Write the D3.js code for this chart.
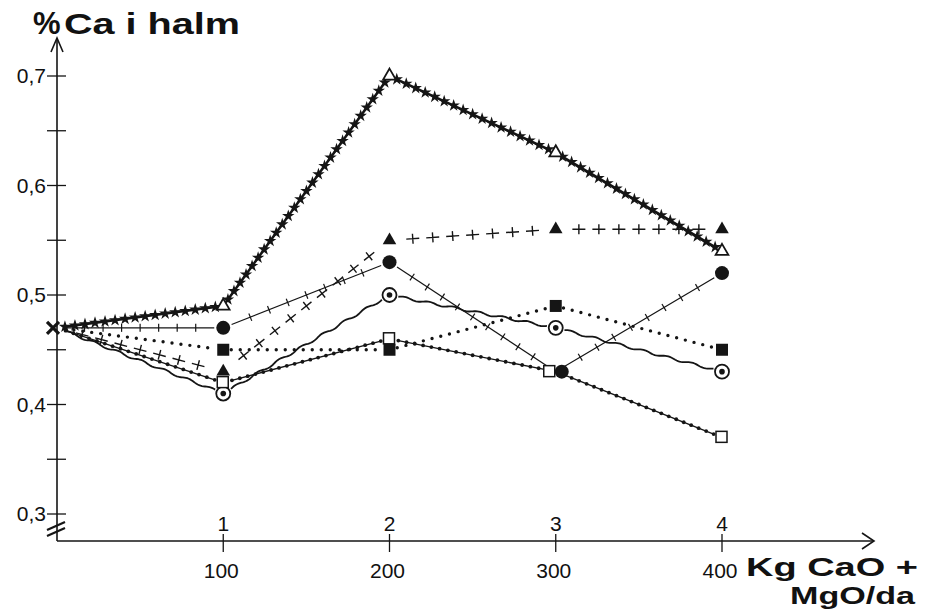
<!DOCTYPE html>
<html>
<head>
<meta charset="utf-8">
<script src="https://cdn.jsdelivr.net/npm/d3@7"></script>
<style>
  body { margin: 0; background: #fff; }
  text { font-family: "Liberation Sans", Arial, sans-serif; fill: #111; }
</style>
</head>
<body>
<svg id="chart" width="925" height="610"></svg>
<script>
// data
let xValues = [0, 100, 200, 300, 400];
let xTopLabels = ['', '1', '2', '3', '4'];
let xBottomLabels = ['', '100', '200', '300', '400'];
let yLabelValues = [0.3, 0.4, 0.5, 0.6, 0.7];
let yLabelTexts = ['0,3', '0,4', '0,5', '0,6', '0,7'];
let yTickValues = [0.3, 0.35, 0.4, 0.45, 0.5, 0.55, 0.6, 0.65, 0.7];

let triOpenValues = [0.47, 0.49, 0.70, 0.63, 0.54];
let triFilledValues = [0.47, 0.43, 0.55, 0.56, 0.56];
let circleValues = [0.47, 0.47, 0.53, 0.43, 0.52];
let squareValues = [0.47, 0.45, 0.45, 0.49, 0.45];
let dotCircleValues = [0.47, 0.41, 0.50, 0.47, 0.43];
let squareOpenValues = [0.47, 0.42, 0.46, 0.43, 0.37];

let svg = d3.select('#chart');
let ink = '#151515';

let xScale = d3.scaleLinear().domain([0, 400]).range([57, 722]);
let yScale = d3.scaleLinear().domain([0.3, 0.7]).range([514, 76]);
let axisY = 541;

// axes
let axes = svg.append('g').attr('stroke', ink).attr('fill', 'none');
axes.append('line')
    .attr('x1', xScale(0)).attr('y1', axisY)
    .attr('x2', xScale(0)).attr('y2', 40)
    .attr('stroke-width', 1.6);
axes.append('path')
    .attr('d', 'M' + (xScale(0) - 6) + ',52L' + xScale(0) + ',38L' + (xScale(0) + 6) + ',52')
    .attr('stroke-width', 1.6);
axes.append('line')
    .attr('x1', xScale(0)).attr('y1', axisY)
    .attr('x2', 874).attr('y2', axisY)
    .attr('stroke-width', 1.6);
axes.append('path')
    .attr('d', 'M862,' + (axisY - 8) + 'L874,' + axisY + 'L862,' + (axisY + 8))
    .attr('stroke-width', 1.6);

// axis break
[0, 6].forEach(function (off) {
    axes.append('line')
        .attr('x1', xScale(0) - 10).attr('y1', 532 - off + 4)
        .attr('x2', xScale(0) + 8).attr('y2', 524 - off + 4)
        .attr('stroke-width', 2.2);
});

// y ticks (crosses)
yTickValues.forEach(function (v) {
    axes.append('line')
        .attr('x1', xScale(0) - 10).attr('x2', xScale(0) + 9)
        .attr('y1', yScale(v)).attr('y2', yScale(v))
        .attr('stroke-width', 1.3);
});
yLabelValues.forEach(function (v, i) {
    svg.append('text')
        .attr('x', xScale(0) - 11).attr('y', yScale(v) + 7)
        .attr('text-anchor', 'end')
        .style('font-size', '21px')
        .text(yLabelTexts[i]);
});

// x ticks
xValues.forEach(function (v, i) {
    if (v === 0) return;
    axes.append('line')
        .attr('x1', xScale(v)).attr('x2', xScale(v))
        .attr('y1', axisY - 7).attr('y2', axisY + 11)
        .attr('stroke-width', 1.3);
    svg.append('text')
        .attr('x', xScale(v)).attr('y', axisY - 10)
        .attr('text-anchor', 'middle')
        .style('font-size', '21px')
        .text(xTopLabels[i]);
    svg.append('text')
        .attr('x', xScale(v) - 2).attr('y', axisY + 37)
        .attr('text-anchor', 'middle')
        .style('font-size', '21px')
        .text(xBottomLabels[i]);
});

// titles (wide bold lettering, stretched to the scanned widths)
svg.append('text')
    .attr('x', 33).attr('y', 34)
    .style('font-size', '31px').style('font-weight', 'bold')
    .text('%');
svg.append('text')
    .attr('x', 64).attr('y', 34)
    .attr('textLength', 176).attr('lengthAdjust', 'spacingAndGlyphs')
    .style('font-size', '30px').style('font-weight', 'bold')
    .text('Ca i halm');
svg.append('text')
    .attr('x', 746).attr('y', 576)
    .attr('textLength', 172).attr('lengthAdjust', 'spacingAndGlyphs')
    .style('font-size', '25px').style('font-weight', 'bold')
    .text('Kg CaO +');
svg.append('text')
    .attr('x', 790).attr('y', 604)
    .attr('textLength', 125).attr('lengthAdjust', 'spacingAndGlyphs')
    .style('font-size', '24px').style('font-weight', 'bold')
    .text('MgO/da');

// helpers for the hand drawn line styles
function segments(values, gap) {
    let pts = values.map(function (v, i) { return [xScale(xValues[i]), yScale(v)]; });
    let segs = [];
    for (let i = 0; i < pts.length - 1; i++) {
        let a = pts[i], b = pts[i + 1];
        let dx = b[0] - a[0], dy = b[1] - a[1];
        let len = Math.sqrt(dx * dx + dy * dy);
        let ux = dx / len, uy = dy / len;
        segs.push({
            a: [a[0] + ux * gap, a[1] + uy * gap],
            b: [b[0] - ux * gap, b[1] - uy * gap],
            len: len - 2 * gap, ux: ux, uy: uy
        });
    }
    return segs;
}

function along(seg, spacing) {
    let n = Math.max(1, Math.floor(seg.len / spacing));
    let out = [];
    for (let i = 0; i <= n; i++) {
        let t = i / n;
        out.push([seg.a[0] + (seg.b[0] - seg.a[0]) * t, seg.a[1] + (seg.b[1] - seg.a[1]) * t]);
    }
    return out;
}

let lines = svg.append('g').attr('fill', 'none').attr('stroke', ink);

// open triangle series: heavy line with stars
segments(triOpenValues, 8).forEach(function (s) {
    lines.append('line')
        .attr('x1', s.a[0]).attr('y1', s.a[1]).attr('x2', s.b[0]).attr('y2', s.b[1])
        .attr('stroke-width', 2.5);
    along(s, 10).forEach(function (p) {
        svg.append('path')
            .attr('d', d3.symbol().type(d3.symbolStar).size(48)())
            .attr('transform', 'translate(' + p[0] + ',' + p[1] + ')')
            .attr('fill', ink);
    });
});

// filled triangle series: dashes, each crossed by a tick
segments(triFilledValues, 8).forEach(function (s) {
    let step = 20, dash = 13;
    let n = Math.floor(s.len / step);
    let off = (s.len - n * step + (step - dash)) / 2;
    for (let i = 0; i < n; i++) {
        let t0 = off + i * step, t1 = t0 + dash, tm = (t0 + t1) / 2;
        let p0 = [s.a[0] + s.ux * t0, s.a[1] + s.uy * t0];
        let p1 = [s.a[0] + s.ux * t1, s.a[1] + s.uy * t1];
        let pm = [s.a[0] + s.ux * tm, s.a[1] + s.uy * tm];
        lines.append('path')
            .attr('d', 'M' + p0 + 'L' + p1 +
                'M' + (pm[0] + s.uy * 5) + ',' + (pm[1] - s.ux * 5) +
                'L' + (pm[0] - s.uy * 5) + ',' + (pm[1] + s.ux * 5))
            .attr('stroke-width', 1.4);
    }
});

// filled circle series: thin line with small ticks
segments(circleValues, 9).forEach(function (s) {
    lines.append('line')
        .attr('x1', s.a[0]).attr('y1', s.a[1]).attr('x2', s.b[0]).attr('y2', s.b[1])
        .attr('stroke-width', 1.2);
    along(s, 18).slice(1, -1).forEach(function (p) {
        lines.append('line')
            .attr('x1', p[0] + s.uy * 4).attr('y1', p[1] - s.ux * 4)
            .attr('x2', p[0] - s.uy * 4).attr('y2', p[1] + s.ux * 4)
            .attr('stroke-width', 1.2);
    });
});

// filled square series: dotted
segments(squareValues, 8).forEach(function (s) {
    lines.append('line')
        .attr('x1', s.a[0]).attr('y1', s.a[1]).attr('x2', s.b[0]).attr('y2', s.b[1])
        .attr('stroke-width', 3.4)
        .attr('stroke-linecap', 'round')
        .attr('stroke-dasharray', '0,9');
});

// circled dot series: wavy line
segments(dotCircleValues, 9).forEach(function (s) {
    let pts = [];
    let n = Math.floor(s.len / 1.5);
    for (let i = 0; i <= n; i++) {
        let t = i / n;
        let w = Math.sin(t * s.len / 4) * 1.1;
        pts.push([s.a[0] + (s.b[0] - s.a[0]) * t + s.uy * w, s.a[1] + (s.b[1] - s.a[1]) * t - s.ux * w]);
    }
    lines.append('path')
        .attr('d', d3.line()(pts))
        .attr('stroke-width', 1.8);
});

// open square series: line with beads
segments(squareOpenValues, 9).forEach(function (s) {
    lines.append('line')
        .attr('x1', s.a[0]).attr('y1', s.a[1]).attr('x2', s.b[0]).attr('y2', s.b[1])
        .attr('stroke-width', 1.3);
    along(s, 8).forEach(function (p) {
        svg.append('circle')
            .attr('cx', p[0]).attr('cy', p[1]).attr('r', 1.9)
            .attr('fill', ink);
    });
});

// markers
let marks = svg.append('g');
function pointsOf(values) {
    return values.map(function (v, i) { return {x: xValues[i], y: v}; }).slice(1);
}

marks.selectAll('.tri-open').data(pointsOf(triOpenValues)).enter().append('path')
    .attr('d', d3.symbol().type(d3.symbolTriangle).size(70)())
    .attr('transform', d => 'translate(' + xScale(d.x) + ',' + yScale(d.y) + ')')
    .attr('fill', '#fff').attr('stroke', ink).attr('stroke-width', 1.8);

marks.selectAll('.tri-filled').data(pointsOf(triFilledValues)).enter().append('path')
    .attr('d', d3.symbol().type(d3.symbolTriangle).size(80)())
    .attr('transform', d => 'translate(' + xScale(d.x) + ',' + yScale(d.y) + ')')
    .attr('fill', ink);

marks.selectAll('.circle').data(pointsOf(circleValues)).enter().append('circle')
    .attr('cx', d => xScale(d.x) + (d.x === 300 ? 6 : 0))
    .attr('cy', d => yScale(d.y))
    .attr('r', 7)
    .attr('fill', ink);

marks.selectAll('.square').data(pointsOf(squareValues)).enter().append('rect')
    .attr('x', d => xScale(d.x) - 6)
    .attr('y', d => yScale(d.y) - 6)
    .attr('width', 12).attr('height', 12)
    .attr('fill', ink);

marks.selectAll('.dot-circle').data(pointsOf(dotCircleValues)).enter().append('circle')
    .attr('cx', d => xScale(d.x))
    .attr('cy', d => yScale(d.y))
    .attr('r', 7)
    .attr('fill', '#fff').attr('stroke', ink).attr('stroke-width', 1.8);
marks.selectAll('.dot-circle-in').data(pointsOf(dotCircleValues)).enter().append('circle')
    .attr('cx', d => xScale(d.x))
    .attr('cy', d => yScale(d.y))
    .attr('r', 2.8)
    .attr('fill', ink);

marks.selectAll('.square-open').data(pointsOf(squareOpenValues)).enter().append('rect')
    .attr('x', d => xScale(d.x) - 6 - (d.x === 300 ? 6 : 0))
    .attr('y', d => yScale(d.y) - 6)
    .attr('width', 11).attr('height', 11)
    .attr('fill', '#fff').attr('stroke', ink).attr('stroke-width', 1.5);

// common start point
let x0 = xScale(xValues[0]) - 4, y0 = yScale(triOpenValues[0]);
marks.append('path')
    .attr('d', 'M' + (x0 - 6) + ',' + (y0 - 6) + 'L' + (x0 + 6) + ',' + (y0 + 6) +
        'M' + (x0 + 6) + ',' + (y0 - 6) + 'L' + (x0 - 6) + ',' + (y0 + 6))
    .attr('stroke', ink).attr('stroke-width', 3.2);
</script>
</body>
</html>
